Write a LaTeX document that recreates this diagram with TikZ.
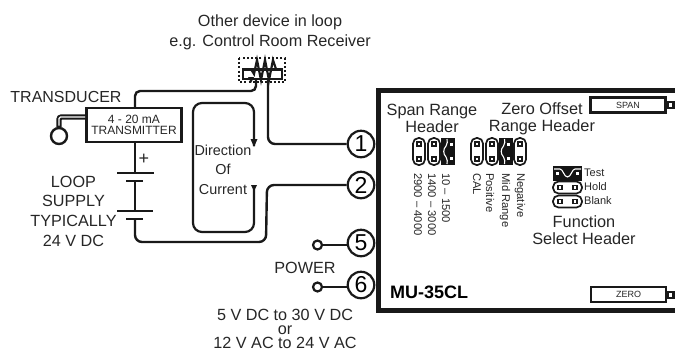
\documentclass[tikz,border=0pt]{standalone}
\usepackage{fontspec}
\setmainfont{Liberation Sans}
\usetikzlibrary{arrows.meta,calc}
\tikzset{
  wire/.style={line width=2.4pt,rounded corners=5pt,draw=black!90},
  term/.style={circle,draw=black!90,line width=2.2pt,fill=white,minimum size=26.5pt,inner sep=0pt,font=\fontsize{23}{23}\selectfont},
  lbl/.style={inner sep=0pt,align=center,text=black!85,font=\fontsize{16.2}{17.5}\selectfont},
  vlbl/.style={inner sep=0pt,rotate=-90,anchor=west,text=black!85,font=\fontsize{11.2}{11}\selectfont},
  hlbl/.style={inner sep=0pt,anchor=west,text=black!85,font=\fontsize{11}{12}\selectfont},
  btn/.style={draw=black!90,line width=2.3pt,fill=white,inner sep=0pt,text=black!85,font=\fontsize{9}{10}\selectfont},
  plate/.style={line width=2.5pt,draw=black!90},
  opencirc/.style={circle,draw=black!90,line width=2.2pt,fill=white,inner sep=0pt,minimum size=9pt},
  pin/.style={draw=black!90,line width=1.1pt,fill=white}
}
\newcommand{\vpill}[2]{%
  \draw[black!90,line width=1.7pt,fill=white,rounded corners=5.5pt] (#1-6,#2) rectangle (#1+6,#2+27);
  \draw[pin] (#1-2,#2+4) rectangle (#1+2,#2+8);
  \draw[pin] (#1-2,#2+19) rectangle (#1+2,#2+23);}
\newcommand{\vjump}[2]{%
  \fill[black!92] (#1-7,#2) rectangle (#1+7,#2+27);
  \draw[white,line width=1.1pt] (#1-1,#2+1) .. controls (#1-1,#2+4) and (#1+0,#2+5) .. (#1-2,#2+8) .. controls (#1-5,#2+11) and (#1-5,#2+16) .. (#1-2,#2+19) .. controls (#1+0,#2+22) and (#1-1,#2+23) .. (#1-1,#2+26);
  \fill[white] (#1+1.5,#2+5) rectangle (#1+4.5,#2+8);
  \fill[white] (#1+1.5,#2+19) rectangle (#1+4.5,#2+22);}
\newcommand{\hpill}[2]{%
  \draw[black!90,line width=1.7pt,fill=white,rounded corners=5.5pt] (#1,#2-6) rectangle (#1+29,#2+6);
  \draw[pin] (#1+5,#2-2) rectangle (#1+9,#2+2);
  \draw[pin] (#1+20,#2-2) rectangle (#1+24,#2+2);}
\begin{document}
\begin{tikzpicture}[x=1pt,y=-1pt]
\useasboundingbox (0,0) rectangle (675,349);
% main box
\draw[black!90,line width=5pt] (675,90) -- (378,90) -- (378,310.5) -- (675,310.5);
% terminals
\node[term] (t1) at (361,144) {1};
\node[term] (t2) at (361,185) {2};
\node[term] (t5) at (361,243) {5};
\node[term] (t6) at (361,285) {6};
\node[opencirc] (p5) at (317.5,245) {};
\node[opencirc] (p6) at (317.5,287) {};
\draw[line width=2.2pt,black!90] (p5) -- (p5-|t5.west);
\draw[line width=2.2pt,black!90] (p6) -- (p6-|t6.west);
% transmitter
\node[draw=black!90,line width=2.5pt,minimum width=95pt,minimum height=34pt,inner sep=0pt,align=center,text=black!85,font=\fontsize{12}{11.5}\selectfont] (tx) at (134,125) {4 - 20 mA\\TRANSMITTER};
\node[circle,draw=black!90,line width=2.4pt,minimum size=16pt,inner sep=0pt] (sensor) at (59,136) {};
\draw[black!90,line width=5.4pt,rounded corners=2.5pt] (59,127) -- (59,117) -- (tx.west|-0,117);
\draw[white,line width=1.3pt,rounded corners=1.5pt] (59,125.5) -- (59,117) -- (85,117);
% battery
\coordinate (b1) at (135,173);
\coordinate (b2) at (135,181);
\coordinate (b3) at (135,211);
\coordinate (b4) at (135,219);
\draw[plate] (117,173) -- (154,173);
\draw[plate] (126,181) -- (143,181);
\draw[plate] (117,211) -- (153,211);
\draw[plate] (126,219) -- (143,219);
\draw[wire] (tx.south-|b1) -- (b1);
\draw[wire] (b2) -- (b3);
% resistor
\draw[black!90,line width=2.4pt,dash pattern=on 2pt off 2.2pt] (239,58) rectangle (285,82);
\draw[black!90,line width=2.2pt,fill=white] (243,69.5) rectangle (282,79);
\draw[black!90,line width=2.2pt,line join=miter] (251,69) -- (254,74) -- (257,60) -- (261,80) -- (265,60) -- (269,80) -- (273,60) -- (276,69);
\fill[black!90] (248,77) -- (254,77) -- (251,83) -- cycle;
\coordinate (r1) at (256,80);
\coordinate (r2) at (268,80);
% wires
\draw[wire] (tx.north-|b1) -- (135,91) -- (256,91) -- (r1);
\draw[wire,rounded corners=7pt] (r2) -- (268,144) -- (t1.west);
\draw[wire,rounded corners=7pt] (t2.west) -- (267,185) -- (266,242) -- (135,242) -- (b4);
% current direction
\coordinate (a1) at (254,146);
\coordinate (a2) at (254,187);
\draw[black!90,line width=2.2pt,rounded corners=9pt] (a1) -- (254,103) -- (193,103) -- (193,232) -- (254,232) -- (a2);
\fill[black!90] (250.5,139) -- (257.5,139) -- (254,147) -- cycle;
\fill[black!90] (251,185) -- (257,185) -- (254,191) -- cycle;
\node[lbl,font=\fontsize{14.4}{19.5}\selectfont] (dir) at (223,169.5) {Direction\\Of\\Current};
% labels
\node[lbl,font=\fontsize{16.2}{20}\selectfont] (other) at (270,32) {Other device in loop\\e.g. Control Room Receiver};
\node[lbl,font=\fontsize{16}{16}\selectfont] (transducer) at (66,97) {TRANSDUCER};
\node[lbl,font=\fontsize{18}{18}\selectfont] (plus) at (144,159) {+};
\node[lbl,font=\fontsize{16.2}{19.7}\selectfont] (loop) at (73.5,211) {LOOP\\SUPPLY\\TYPICALLY\\24 V DC};
\node[lbl,font=\fontsize{16.2}{16}\selectfont] (power) at (305,268) {POWER};
\node[lbl,font=\fontsize{16.2}{14}\selectfont] (volt) at (285,329) {5 V DC to 30 V DC\\or\\12 V AC to 24 V AC};
\node[lbl,font=\fontsize{16.3}{17}\selectfont] (span) at (432,118.5) {Span Range\\Header};
\node[lbl,font=\fontsize{16.3}{17}\selectfont] (zero) at (542,118.5) {Zero Offset\\Range Header};
\node[lbl,font=\fontsize{16.3}{17}\selectfont] (func) at (584,230.5) {Function\\Select Header};
\node[lbl,anchor=west,text=black,font=\fontsize{18}{18}\bfseries\selectfont] (mu) at (390,292) {MU-35CL};
% span jumpers
\vpill{419}{138}\vpill{434}{138}\vjump{448}{138}
\vpill{477}{138}\vpill{492}{138}\vjump{505.5}{138}\vpill{520}{138}
\node[vlbl] (s1) at (418,173) {2900 – 4000};
\node[vlbl] (s2) at (432,173) {1400 – 3000};
\node[vlbl] (s3) at (446,173) {10 – 1500};
\node[vlbl] (z1) at (477,173) {CAL};
\node[vlbl] (z2) at (490,173) {Positive};
\node[vlbl] (z3) at (505,173) {Mid Range};
\node[vlbl] (z4) at (520,173) {Negative};
% function jumpers
\fill[black!92] (553,166) rectangle (582,181);
\draw[white,line width=1.1pt] (554,169) -- (560,169) .. controls (563,169) and (564,177) .. (567.5,177) .. controls (571,177) and (572,169) .. (575,169) -- (581,169);
\fill[white] (556,172) rectangle (559,175);
\fill[white] (576,172) rectangle (579,175);
\hpill{553}{187.5}\hpill{553}{201.5}
\node[hlbl] (ft) at (584,173) {Test};
\node[hlbl] (fh) at (584,187) {Hold};
\node[hlbl] (fb) at (584,201) {Blank};
% buttons
\node[btn,minimum width=75pt,minimum height=15pt] (bs) at (628,105) {SPAN};
\node[btn,minimum width=75pt,minimum height=15pt] (bz) at (628.5,294.5) {ZERO};
\fill[black!90] (666,101) rectangle (675,109);
\fill[white] (668.5,103) rectangle (672,107);
\fill[black!90] (666,291) rectangle (675,299);
\fill[white] (668.5,293) rectangle (672,297);
\end{tikzpicture}
\end{document}
